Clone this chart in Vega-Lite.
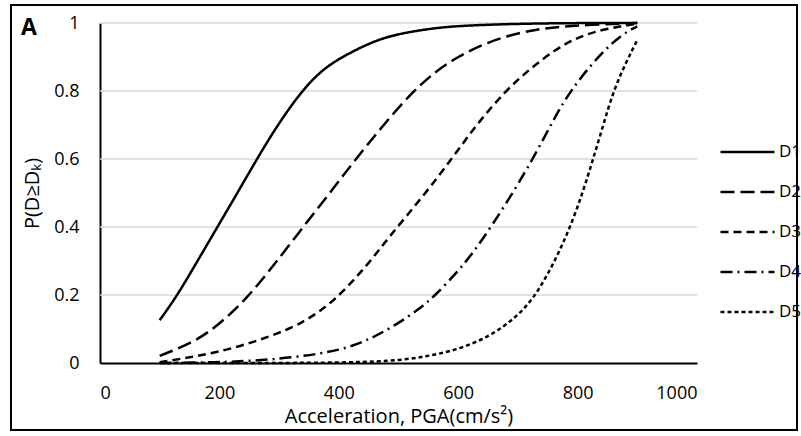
{
  "$schema": "https://vega.github.io/schema/vega-lite/v6.json",
  "width": 786,
  "height": 425,
  "autosize": "none",
  "padding": {"left": 11, "top": 5, "right": 4, "bottom": 6},
  "background": "white",
  "config": {
    "view": {"stroke": "black", "strokeWidth": 2},
    "font": "Open Sans",
    "axisX": {
      "orient": "bottom", "offset": -67, "grid": false,
      "ticks": false, "domainColor": "black", "domainWidth": 2, "labelFontSize": 18, "labelColor": "black",
      "labelPadding": 21, "titleFontSize": 20, "titleFontWeight": "normal", "titleColor": "black", "titlePadding": 4
    },
    "axisY": {
      "orient": "left", "offset": -89, "grid": false,
      "ticks": false, "domainColor": "black", "domainWidth": 2, "labelFontSize": 18, "labelColor": "black",
      "labelPadding": 21, "titleFontSize": 20, "titleFontWeight": "normal", "titleColor": "black", "titlePadding": 11
    }
  },
  "title": {"text": "A", "anchor": "start", "frame": "group", "fontSize": 23, "fontWeight": "bold", "font": "Open Sans", "color": "black", "offset": -35, "dx": 10},
  "datasets": {
    "grid": [{"g": 0.2}, {"g": 0.4}, {"g": 0.6}, {"g": 0.8}, {"g": 1.0}],
    "curves": [
      {"state": "D1", "pga": 100, "p": 0.126}, {"state": "D1", "pga": 126, "p": 0.19}, {"state": "D1", "pga": 150, "p": 0.26},
      {"state": "D1", "pga": 175, "p": 0.335}, {"state": "D1", "pga": 200, "p": 0.41}, {"state": "D1", "pga": 230, "p": 0.5},
      {"state": "D1", "pga": 258, "p": 0.585}, {"state": "D1", "pga": 290, "p": 0.68}, {"state": "D1", "pga": 333, "p": 0.79},
      {"state": "D1", "pga": 370, "p": 0.86}, {"state": "D1", "pga": 405, "p": 0.9}, {"state": "D1", "pga": 450, "p": 0.94},
      {"state": "D1", "pga": 490, "p": 0.965}, {"state": "D1", "pga": 550, "p": 0.983}, {"state": "D1", "pga": 600, "p": 0.992},
      {"state": "D1", "pga": 700, "p": 0.998}, {"state": "D1", "pga": 800, "p": 1.0}, {"state": "D1", "pga": 900, "p": 1.0},

      {"state": "D2", "pga": 100, "p": 0.021}, {"state": "D2", "pga": 154, "p": 0.058}, {"state": "D2", "pga": 198, "p": 0.11},
      {"state": "D2", "pga": 246, "p": 0.19}, {"state": "D2", "pga": 290, "p": 0.285}, {"state": "D2", "pga": 338, "p": 0.395},
      {"state": "D2", "pga": 385, "p": 0.5}, {"state": "D2", "pga": 424, "p": 0.59}, {"state": "D2", "pga": 470, "p": 0.69},
      {"state": "D2", "pga": 519, "p": 0.79}, {"state": "D2", "pga": 560, "p": 0.855}, {"state": "D2", "pga": 598, "p": 0.9},
      {"state": "D2", "pga": 650, "p": 0.945}, {"state": "D2", "pga": 709, "p": 0.975}, {"state": "D2", "pga": 760, "p": 0.988},
      {"state": "D2", "pga": 821, "p": 0.995}, {"state": "D2", "pga": 900, "p": 1.0},

      {"state": "D3", "pga": 100, "p": 0.002}, {"state": "D3", "pga": 159, "p": 0.019}, {"state": "D3", "pga": 226, "p": 0.043},
      {"state": "D3", "pga": 304, "p": 0.09}, {"state": "D3", "pga": 340, "p": 0.12}, {"state": "D3", "pga": 371, "p": 0.155},
      {"state": "D3", "pga": 402, "p": 0.2}, {"state": "D3", "pga": 449, "p": 0.29}, {"state": "D3", "pga": 486, "p": 0.375},
      {"state": "D3", "pga": 541, "p": 0.49}, {"state": "D3", "pga": 589, "p": 0.6}, {"state": "D3", "pga": 630, "p": 0.7},
      {"state": "D3", "pga": 679, "p": 0.8}, {"state": "D3", "pga": 720, "p": 0.865}, {"state": "D3", "pga": 765, "p": 0.925},
      {"state": "D3", "pga": 800, "p": 0.958}, {"state": "D3", "pga": 843, "p": 0.982}, {"state": "D3", "pga": 900, "p": 0.998},

      {"state": "D4", "pga": 100, "p": 0.0}, {"state": "D4", "pga": 200, "p": 0.002}, {"state": "D4", "pga": 250, "p": 0.006},
      {"state": "D4", "pga": 327, "p": 0.016}, {"state": "D4", "pga": 405, "p": 0.038}, {"state": "D4", "pga": 450, "p": 0.068},
      {"state": "D4", "pga": 494, "p": 0.11}, {"state": "D4", "pga": 536, "p": 0.16}, {"state": "D4", "pga": 561, "p": 0.198},
      {"state": "D4", "pga": 600, "p": 0.27}, {"state": "D4", "pga": 625, "p": 0.325}, {"state": "D4", "pga": 655, "p": 0.4},
      {"state": "D4", "pga": 695, "p": 0.51}, {"state": "D4", "pga": 728, "p": 0.61}, {"state": "D4", "pga": 758, "p": 0.71},
      {"state": "D4", "pga": 787, "p": 0.8}, {"state": "D4", "pga": 838, "p": 0.91}, {"state": "D4", "pga": 877, "p": 0.97},
      {"state": "D4", "pga": 900, "p": 0.99},

      {"state": "D5", "pga": 100, "p": 0.0}, {"state": "D5", "pga": 300, "p": 0.0}, {"state": "D5", "pga": 400, "p": 0.001},
      {"state": "D5", "pga": 486, "p": 0.005}, {"state": "D5", "pga": 541, "p": 0.017}, {"state": "D5", "pga": 598, "p": 0.038},
      {"state": "D5", "pga": 653, "p": 0.078}, {"state": "D5", "pga": 698, "p": 0.135}, {"state": "D5", "pga": 731, "p": 0.2},
      {"state": "D5", "pga": 765, "p": 0.31}, {"state": "D5", "pga": 790, "p": 0.41}, {"state": "D5", "pga": 810, "p": 0.509},
      {"state": "D5", "pga": 826, "p": 0.6}, {"state": "D5", "pga": 843, "p": 0.7}, {"state": "D5", "pga": 860, "p": 0.8},
      {"state": "D5", "pga": 880, "p": 0.88}, {"state": "D5", "pga": 900, "p": 0.95}
    ]
  },
  "layer": [
    {
      "data": {"name": "grid"},
      "mark": {"type": "rule", "color": "#d9d9d9", "strokeWidth": 1.5},
      "encoding": {
        "y": {
          "field": "g", "type": "quantitative",
          "scale": {"domain": [0, 1], "range": [358, 18], "nice": false, "zero": false},
          "title": "P(D≥Dₖ)",
          "axis": {"values": [0, 0.2, 0.4, 0.6, 0.8, 1], "format": "~g"}
        },
        "x": {
          "datum": 0, "type": "quantitative",
          "scale": {"domain": [0, 1000], "range": [89, 686], "nice": false, "zero": false},
          "title": "Acceleration, PGA(cm/s²)",
          "axis": {"values": [0, 200, 400, 600, 800, 1000], "format": "d"}
        },
        "x2": {"datum": 1000}
      }
    },
    {
      "data": {"name": "curves"},
      "mark": {"type": "line", "color": "black", "strokeWidth": 2.5, "interpolate": "basis"},
      "encoding": {
        "x": {
          "field": "pga", "type": "quantitative",
          "scale": {"domain": [0, 1000], "range": [89, 686], "nice": false, "zero": false},
          "title": "Acceleration, PGA(cm/s²)",
          "axis": {"values": [0, 200, 400, 600, 800, 1000], "format": "d"}
        },
        "y": {
          "field": "p", "type": "quantitative",
          "scale": {"domain": [0, 1], "range": [358, 18], "nice": false, "zero": false},
          "title": "P(D≥Dₖ)",
          "axis": {"values": [0, 0.2, 0.4, 0.6, 0.8, 1], "format": "~g"}
        },
        "strokeDash": {
          "field": "state", "type": "nominal",
          "scale": {"domain": ["D1", "D2", "D3", "D4", "D5"], "range": [[1, 0], [14, 6], [8, 5], [12, 5, 2, 5], [4, 3]]},
          "legend": {
            "orient": "none", "legendX": 708, "legendY": 127, "title": null, "symbolType": "stroke",
            "symbolSize": 2916, "symbolStrokeWidth": 2.5, "symbolStrokeColor": "black", "labelFontSize": 17,
            "labelColor": "black", "clipHeight": 40, "rowPadding": 0, "labelOffset": 3
          }
        },
        "detail": {"field": "state"}
      }
    }
  ]
}
